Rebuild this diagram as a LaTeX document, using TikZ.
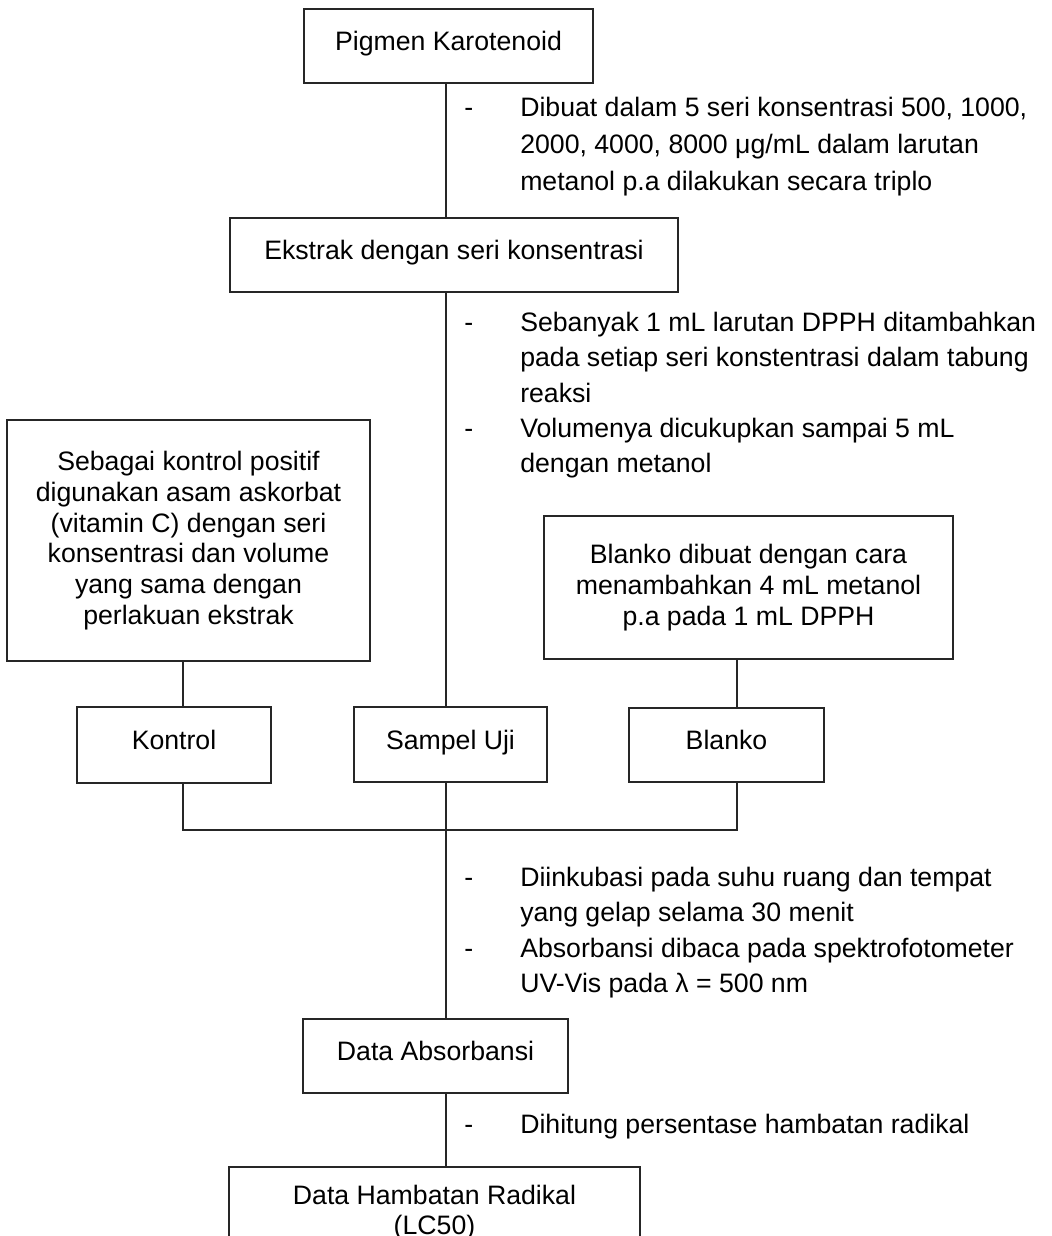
\documentclass[tikz,border=0pt]{standalone}
\usepackage{fontspec}
\setmainfont{Liberation Sans}
\begin{document}
\begin{tikzpicture}[x=0.75pt,y=-0.75pt,
  link/.style={draw=black!85,line width=1.1pt},
  stepbox/.style={draw=black!85,line width=1.1pt,inner sep=0pt,
    font=\fontsize{20}{23}\selectfont,text height=0.716em,text depth=0pt},
  textbox/.style={draw=black!85,line width=1.1pt,inner sep=0pt,align=center,
    font=\fontsize{20}{23}\selectfont},
  note/.style={anchor=base west,inner sep=0pt,font=\fontsize{20}{24}\selectfont},
  dashmark/.style={anchor=base west,inner sep=0pt,font=\fontsize{20}{24}\selectfont}]
\useasboundingbox (0,0) rectangle (1051,1236);
\fill[white] (0,0) rectangle (1051,1236);
\clip (0,0) rectangle (1051,1236);

% main boxes
\node[stepbox,minimum width=216.75pt,minimum height=55.5pt] (pig) at (448.5,46) {Pigmen Karotenoid};
\node[stepbox,minimum width=336pt,minimum height=55.5pt] (ekstrak) at (454,255) {Ekstrak dengan seri konsentrasi};
\node[textbox,minimum width=272.25pt,minimum height=180.75pt] (kp) at (188.5,540.5)
  {Sebagai kontrol positif\\digunakan asam askorbat\\(vitamin C) dengan seri\\konsentrasi dan volume\\yang sama dengan\\perlakuan ekstrak};
\node[textbox,minimum width=306.75pt,minimum height=107.25pt] (bd) at (748.5,587.5)
  {Blanko dibuat dengan cara\\menambahkan 4 mL metanol\\p.a pada 1 mL DPPH};
\node[stepbox,minimum width=145.5pt,minimum height=57pt] (kontrol) at (174,745) {Kontrol};
\node[stepbox,minimum width=144.75pt,minimum height=56.25pt] (sampel) at (450.5,744.5) {Sampel Uji};
\node[stepbox,minimum width=146.25pt,minimum height=55.5pt] (blanko) at (726.5,745) {Blanko};
\node[stepbox,minimum width=198.75pt,minimum height=55.5pt] (absorb) at (435.5,1056) {Data Absorbansi};
\node[textbox,minimum width=308.25pt,minimum height=68.25pt] (hambatan) at (434.5,1212.5)
  {Data Hambatan Radikal\\(LC50)};

% line positions
\coordinate (xm) at (446,0);
\coordinate (jl) at (183,830);
\coordinate (jr) at (737,830);

% connectors
\draw[link] (pig.south -| xm) -- (ekstrak.north -| xm);
\draw[link] (ekstrak.south -| xm) -- (sampel.north -| xm);
\draw[link] (kp.south -| jl) -- (kontrol.north -| jl);
\draw[link] (bd.south -| jr) -- (blanko.north -| jr);
\draw[link] (kontrol.south -| jl) -- (jl) -- (jr) -- (blanko.south -| jr);
\draw[link] (sampel.south -| xm) -- (absorb.north -| xm);
\draw[link] (absorb.south -| xm) -- (hambatan.north -| xm);

% step notes
\node[dashmark] (d1) at (464,116) {-};
\node[note] (n1a) at (520,116) {Dibuat dalam 5 seri konsentrasi 500, 1000,};
\node[note] (n1b) at (520,153) {2000, 4000, 8000 μg/mL dalam larutan};
\node[note] (n1c) at (520,190) {metanol p.a dilakukan secara triplo};

\node[dashmark] (d2) at (464,331) {-};
\node[note] (n2a) at (520,331) {Sebanyak 1 mL larutan DPPH ditambahkan};
\node[note] (n2b) at (520,366.5) {pada setiap seri konstentrasi dalam tabung};
\node[note] (n2c) at (520,402) {reaksi};
\node[dashmark] (d3) at (464,437) {-};
\node[note] (n2d) at (520,437) {Volumenya dicukupkan sampai 5 mL};
\node[note] (n2e) at (520,472.5) {dengan metanol};

\node[dashmark] (d4) at (464,886) {-};
\node[note] (n3a) at (520,886) {Diinkubasi pada suhu ruang dan tempat};
\node[note] (n3b) at (520,921.5) {yang gelap selama 30 menit};
\node[dashmark] (d5) at (464,957) {-};
\node[note] (n3c) at (520,957) {Absorbansi dibaca pada spektrofotometer};
\node[note] (n3d) at (520,992.5) {UV-Vis pada λ = 500 nm};

\node[dashmark] (d6) at (464,1133) {-};
\node[note] (n4a) at (520,1133) {Dihitung persentase hambatan radikal};
\end{tikzpicture}
\end{document}
